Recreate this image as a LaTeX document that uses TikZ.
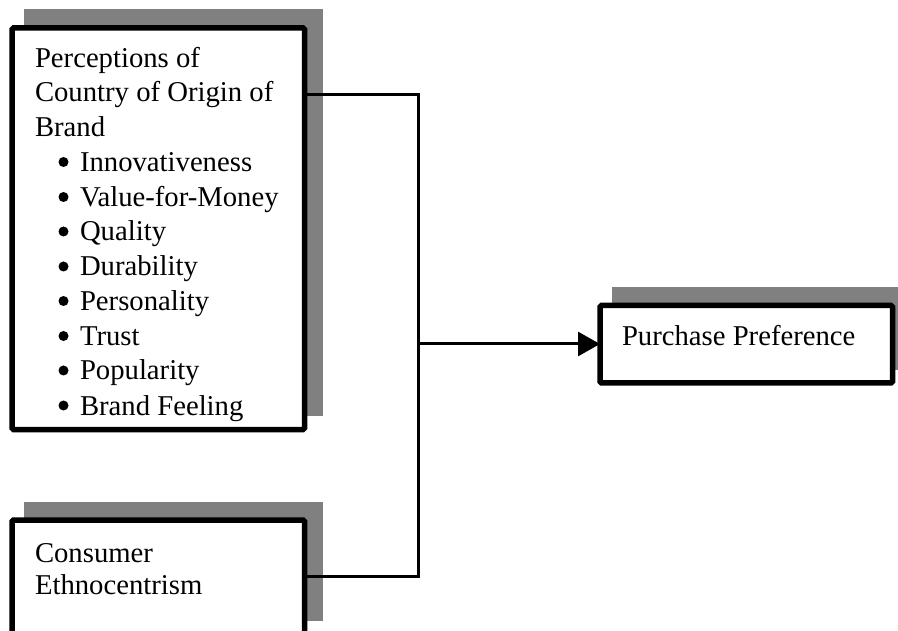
\documentclass[tikz,border=0pt]{standalone}
\usepackage{fontspec}
\setmainfont{Liberation Serif}
\usetikzlibrary{arrows.meta}
\definecolor{shade}{HTML}{808080}
\tikzset{
  boxframe/.style={draw=black, line width=5.5pt, rounded corners=1.5pt, fill=white, inner sep=0pt, outer sep=0pt},
  shadowbox/.style={fill=shade, draw=none},
  txt/.style={anchor=base west, inner sep=0pt, outer sep=0pt, font=\fontsize{28.7}{34.8}\selectfont},
  bulletdot/.style={circle, fill=black, draw=none, inner sep=0pt, minimum size=10pt},
  conn/.style={draw=black, line width=3pt},
}
\begin{document}
\begin{tikzpicture}[x=1pt,y=-1pt]
\useasboundingbox (0,0) rectangle (898,631);
\fill[white] (0,0) rectangle (898,631);
\clip (0,0) rectangle (898,631);
% shadows
\fill[shadowbox] (24,9) rectangle (323,416);
\fill[shadowbox] (24,502) rectangle (323,621);
\fill[shadowbox] (612,287) rectangle (910,370);
% boxes
\node[boxframe, anchor=north west, minimum width=292.5pt, minimum height=401.5pt] (b1) at (12,28) {};
\node[boxframe, anchor=north west, minimum width=292.5pt, minimum height=130pt] (b2) at (12,520) {};
\node[boxframe, anchor=north west, minimum width=292.5pt, minimum height=77.5pt] (b3) at (600,305.5) {};
% texts box 1
\node[txt] (t1) at (35,67.5) {Perceptions of};
\node[txt] (t2) at (35,102) {Country of Origin of};
\node[txt] (t3) at (35,136.5) {Brand};
\foreach \lab/\yy [count=\i] in {Innovativeness/171.5, Value-for-Money/206.5, Quality/241, Durability/276, Personality/310.5, Trust/345.5, Popularity/380, Brand Feeling/415}{
  \node[bulletdot] (bu\i) at (63.5,\yy-9.5) {};
  \node[txt] (it\i) at (80,\yy) {\lab};
}
% text box 2
\node[txt] (c1) at (35,562) {Consumer};
\node[txt] (c2) at (35,594) {Ethnocentrism};
% text box 3
\node[txt] (p1) at (622,345) {Purchase Preference};
% connectors
\coordinate (jt) at (418,95);
\coordinate (jm) at (418,344);
\coordinate (jb) at (418,576);
\draw[conn] (b1.east |- jt) -- (jt) -- (jb) -- (b2.east |- jb);
\draw[conn, -{Triangle[length=22pt,width=24pt]}] (jm) -- (b3.west |- jm);
\end{tikzpicture}
\end{document}
